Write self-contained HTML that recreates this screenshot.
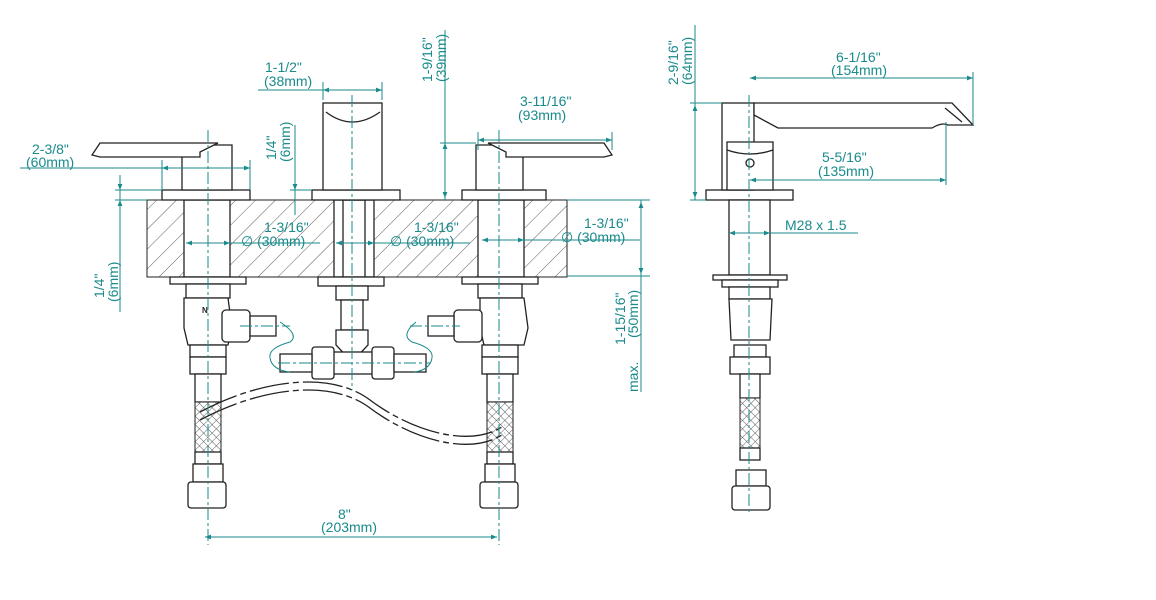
<!DOCTYPE html>
<html><head><meta charset="utf-8"><style>
html,body{margin:0;padding:0;background:#fff;}
svg{display:block}
.k{stroke:#222;stroke-width:1.3;fill:#fff}
.kn{stroke:#222;stroke-width:1.3;fill:none}
.t{stroke:#1a8a8c;stroke-width:1;fill:none}
.c{stroke:#1a8a8c;stroke-width:1;fill:none;stroke-dasharray:12 3 3 3}
text{font-family:"Liberation Sans",sans-serif;font-size:14px;fill:#1a8a8c}
</style></head><body>
<svg width="1156" height="600" viewBox="0 0 1156 600" xmlns="http://www.w3.org/2000/svg">
<defs>
<pattern id="h" width="14" height="14" patternUnits="userSpaceOnUse" patternTransform="rotate(45)"><line x1="0" y1="0" x2="0" y2="14" stroke="#333" stroke-width="0.8"/></pattern>
<pattern id="m" width="6" height="6" patternUnits="userSpaceOnUse" patternTransform="rotate(45)"><rect width="6" height="6" fill="#fff"/><path d="M0 0H6M0 0V6" stroke="#333" stroke-width="0.8"/></pattern>
<marker id="a" viewBox="0 0 10 10" refX="10" refY="5" markerWidth="9" markerHeight="6" orient="auto-start-reverse"><path d="M0 1L10 5L0 9z" fill="#1a8a8c"/></marker>
</defs>

<!-- countertop -->
<rect x="147" y="200" width="420" height="77" fill="url(#h)" stroke="#222" stroke-width="1"/>
<rect x="184" y="200" width="46" height="77" class="k"/>
<rect x="334" y="200" width="40" height="77" class="k"/>
<rect x="478" y="200" width="46" height="77" class="k"/>
<rect x="343" y="200" width="22" height="80" class="kn"/>

<!-- left handle -->
<rect x="162" y="190" width="88" height="10" class="k"/>
<path d="M182 190V152L200 145H232V190Z" class="k"/>
<path d="M92 155L100 143H218L200 152V157H100Z" class="k"/>
<!-- spout -->
<rect x="312" y="190" width="88" height="10" class="k"/>
<rect x="323" y="103" width="59" height="87" class="k"/>
<path d="M326 112Q352 132 380 112" class="kn"/>
<!-- right handle -->
<rect x="462" y="190" width="84" height="10" class="k"/>
<path d="M523 190V152L505 145H476V190Z" class="k"/>
<path d="M612 155L604 143H488L506 152V157H604Z" class="k"/>

<!-- under: left -->
<rect x="170" y="277" width="76" height="7" class="k"/>
<rect x="186" y="284" width="44" height="14" class="k"/>
<path d="M184 298H228L232 328L228 345H188L184 328Z" class="k"/>
<text x="202" y="313" style="fill:#222;font-size:8px;font-weight:bold">N</text>
<rect x="222" y="310" width="28" height="32" rx="4" class="k"/>
<rect x="250" y="316" width="26" height="20" class="k"/>
<rect x="190" y="345" width="36" height="12" class="k"/>
<rect x="190" y="357" width="36" height="17" class="k"/>
<rect x="195" y="374" width="26" height="28" class="k"/>
<rect x="195" y="402" width="26" height="50" fill="url(#m)" stroke="#222"/>
<rect x="195" y="452" width="26" height="12" class="k"/>
<rect x="193" y="464" width="30" height="18" class="k"/>
<rect x="188" y="482" width="38" height="26" rx="3" class="k"/>
<!-- under: right -->
<rect x="462" y="277" width="76" height="7" class="k"/>
<rect x="478" y="284" width="44" height="14" class="k"/>
<path d="M480 298H524L528 328L524 345H484L480 328Z" class="k"/>
<rect x="454" y="310" width="28" height="32" rx="4" class="k"/>
<rect x="428" y="316" width="26" height="20" class="k"/>
<rect x="482" y="345" width="36" height="12" class="k"/>
<rect x="482" y="357" width="36" height="17" class="k"/>
<rect x="487" y="374" width="26" height="28" class="k"/>
<rect x="487" y="402" width="26" height="50" fill="url(#m)" stroke="#222"/>
<rect x="487" y="452" width="26" height="12" class="k"/>
<rect x="485" y="464" width="30" height="18" class="k"/>
<rect x="480" y="482" width="38" height="26" rx="3" class="k"/>
<!-- center tee -->
<rect x="318" y="277" width="66" height="9" class="k"/>
<rect x="336" y="286" width="32" height="14" class="k"/>
<rect x="341" y="300" width="22" height="30" class="k"/>
<path d="M336 330H368V345L352 362L336 345Z" class="k"/>
<rect x="330" y="352" width="46" height="22" class="k"/>
<rect x="312" y="347" width="22" height="32" rx="3" class="k"/>
<rect x="372" y="347" width="22" height="32" rx="3" class="k"/>
<rect x="280" y="354" width="32" height="18" class="k"/>
<rect x="394" y="354" width="32" height="18" class="k"/>
<!-- wavy hose -->
<path d="M200 412C260 380 330 370 370 400S470 450 505 425" class="kn" stroke-dasharray="40 4 6 4"/>
<path d="M200 420C260 388 330 378 370 408S470 458 505 433" class="kn" stroke-dasharray="40 4 6 4"/>
<!-- teal hints -->
<path d="M280 322Q300 335 290 342Q268 348 270 358Q272 370 290 372" class="t"/>
<path d="M416 322Q400 335 412 342Q434 348 432 358Q430 370 414 372" class="t"/>

<!-- center lines -->
<line x1="208" y1="130" x2="208" y2="545" class="c"/>
<line x1="352" y1="95" x2="352" y2="390" class="c"/>
<line x1="499" y1="130" x2="499" y2="545" class="c"/>
<line x1="240" y1="326" x2="290" y2="326" class="c"/>
<line x1="410" y1="326" x2="460" y2="326" class="c"/>
<line x1="278" y1="363" x2="430" y2="363" class="c"/>

<!-- dimensions left view -->
<line x1="258" y1="90" x2="382" y2="90" class="t"/>
<line x1="323" y1="90" x2="382" y2="90" class="t" marker-start="url(#a)" marker-end="url(#a)"/>
<line x1="323" y1="82" x2="323" y2="100" class="t"/><line x1="382" y1="82" x2="382" y2="100" class="t"/>
<text x="265" y="72">1-1/2"</text><text x="264" y="86">(38mm)</text>

<line x1="445" y1="30" x2="445" y2="200" class="t"/>
<line x1="445" y1="143" x2="445" y2="198" class="t" marker-start="url(#a)" marker-end="url(#a)"/>
<text transform="translate(432,82) rotate(-90)">1-9/16"</text>
<text transform="translate(446,82) rotate(-90)">(39mm)</text>
<line x1="440" y1="143" x2="476" y2="143" class="t"/>

<line x1="478" y1="140" x2="612" y2="140" class="t" marker-start="url(#a)" marker-end="url(#a)"/>
<line x1="478" y1="132" x2="478" y2="150" class="t"/><line x1="612" y1="132" x2="612" y2="150" class="t"/>
<text x="520" y="106">3-11/16"</text><text x="518" y="120">(93mm)</text>

<line x1="20" y1="168" x2="250" y2="168" class="t"/>
<line x1="162" y1="168" x2="250" y2="168" class="t" marker-start="url(#a)" marker-end="url(#a)"/>
<line x1="162" y1="160" x2="162" y2="190" class="t"/><line x1="250" y1="160" x2="250" y2="190" class="t"/>
<text x="32" y="154">2-3/8"</text><text x="26" y="167">(60mm)</text>

<line x1="295" y1="125" x2="295" y2="215" class="t"/>
<line x1="295" y1="170" x2="295" y2="190" class="t" marker-end="url(#a)"/>
<text transform="translate(276,160) rotate(-90)">1/4"</text>
<text transform="translate(290,162) rotate(-90)">(6mm)</text>
<line x1="290" y1="190" x2="312" y2="190" class="t"/>

<line x1="120" y1="175" x2="120" y2="312" class="t"/>
<line x1="120" y1="175" x2="120" y2="190" class="t" marker-end="url(#a)"/>
<line x1="120" y1="215" x2="120" y2="200" class="t" marker-end="url(#a)"/>
<line x1="115" y1="190" x2="162" y2="190" class="t"/><line x1="115" y1="200" x2="147" y2="200" class="t"/>
<text transform="translate(104,298) rotate(-90)">1/4"</text>
<text transform="translate(118,302) rotate(-90)">(6mm)</text>

<line x1="186" y1="243" x2="320" y2="243" class="t"/>
<line x1="186" y1="243" x2="230" y2="243" class="t" marker-start="url(#a)" marker-end="url(#a)"/>
<text x="264" y="232">1-3/16"</text><text x="241" y="246">∅ (30mm)</text>
<line x1="336" y1="243" x2="470" y2="243" class="t"/>
<line x1="336" y1="243" x2="374" y2="243" class="t" marker-start="url(#a)" marker-end="url(#a)"/>
<text x="414" y="232">1-3/16"</text><text x="390" y="246">∅ (30mm)</text>
<line x1="482" y1="240" x2="640" y2="240" class="t"/>
<line x1="482" y1="240" x2="524" y2="240" class="t" marker-start="url(#a)" marker-end="url(#a)"/>
<text x="584" y="228">1-3/16"</text><text x="561" y="242">∅ (30mm)</text>

<line x1="567" y1="200" x2="650" y2="200" class="t"/><line x1="567" y1="276" x2="650" y2="276" class="t"/>
<line x1="641" y1="200" x2="641" y2="392" class="t"/>
<line x1="641" y1="202" x2="641" y2="274" class="t" marker-start="url(#a)" marker-end="url(#a)"/>
<text transform="translate(625,345) rotate(-90)">1-15/16"</text>
<text transform="translate(638,338) rotate(-90)">(50mm)</text>
<text transform="translate(638,392) rotate(-90)">max.</text>

<line x1="205" y1="537" x2="497" y2="537" class="t" marker-start="url(#a)" marker-end="url(#a)"/>
<text x="338" y="519">8"</text><text x="321" y="532">(203mm)</text>

<!-- side view -->
<rect x="706" y="190" width="87" height="10" class="k"/>
<rect x="722" y="103" width="32" height="87" class="k"/>
<path d="M754 103H952L973 125H948Q942 122 932 128H778L754 115Z" class="k"/>
<path d="M945 108L962 122" class="kn"/>
<path d="M727 142H773V190H727Z" class="k"/>
<path d="M727 150Q750 158 773 150" class="kn"/>
<circle cx="750" cy="163" r="4" class="kn"/>
<rect x="729" y="200" width="41" height="75" class="k"/>
<rect x="713" y="275" width="74" height="5" class="k"/>
<rect x="722" y="280" width="56" height="7" class="k"/>
<rect x="729" y="287" width="41" height="12" class="k"/>
<path d="M729 299H772L770 340H731Z" class="k"/>
<rect x="734" y="345" width="32" height="12" class="k"/>
<rect x="730" y="357" width="40" height="17" class="k"/>
<rect x="740" y="374" width="20" height="24" class="k"/>
<rect x="740" y="398" width="20" height="50" fill="url(#m)" stroke="#222"/>
<rect x="740" y="448" width="20" height="12" class="k"/>
<rect x="736" y="470" width="30" height="16" class="k"/>
<rect x="732" y="486" width="38" height="24" rx="3" class="k"/>
<line x1="749" y1="95" x2="749" y2="515" class="c"/>

<line x1="690" y1="103" x2="722" y2="103" class="t"/><line x1="690" y1="200" x2="706" y2="200" class="t"/>
<line x1="695" y1="25" x2="695" y2="200" class="t"/>
<line x1="695" y1="105" x2="695" y2="198" class="t" marker-start="url(#a)" marker-end="url(#a)"/>
<text transform="translate(678,85) rotate(-90)">2-9/16"</text>
<text transform="translate(692,85) rotate(-90)">(64mm)</text>

<line x1="750" y1="78" x2="973" y2="78" class="t" marker-start="url(#a)" marker-end="url(#a)"/>
<line x1="973" y1="72" x2="973" y2="125" class="t"/>
<text x="836" y="62">6-1/16"</text><text x="831" y="75">(154mm)</text>
<line x1="750" y1="180" x2="946" y2="180" class="t" marker-start="url(#a)" marker-end="url(#a)"/>
<line x1="946" y1="122" x2="946" y2="185" class="t"/>
<text x="822" y="162">5-5/16"</text><text x="818" y="176">(135mm)</text>
<line x1="729" y1="233" x2="858" y2="233" class="t"/>
<line x1="729" y1="233" x2="770" y2="233" class="t" marker-start="url(#a)" marker-end="url(#a)"/>
<text x="785" y="230">M28 x 1.5</text>
</svg>
</body></html>
